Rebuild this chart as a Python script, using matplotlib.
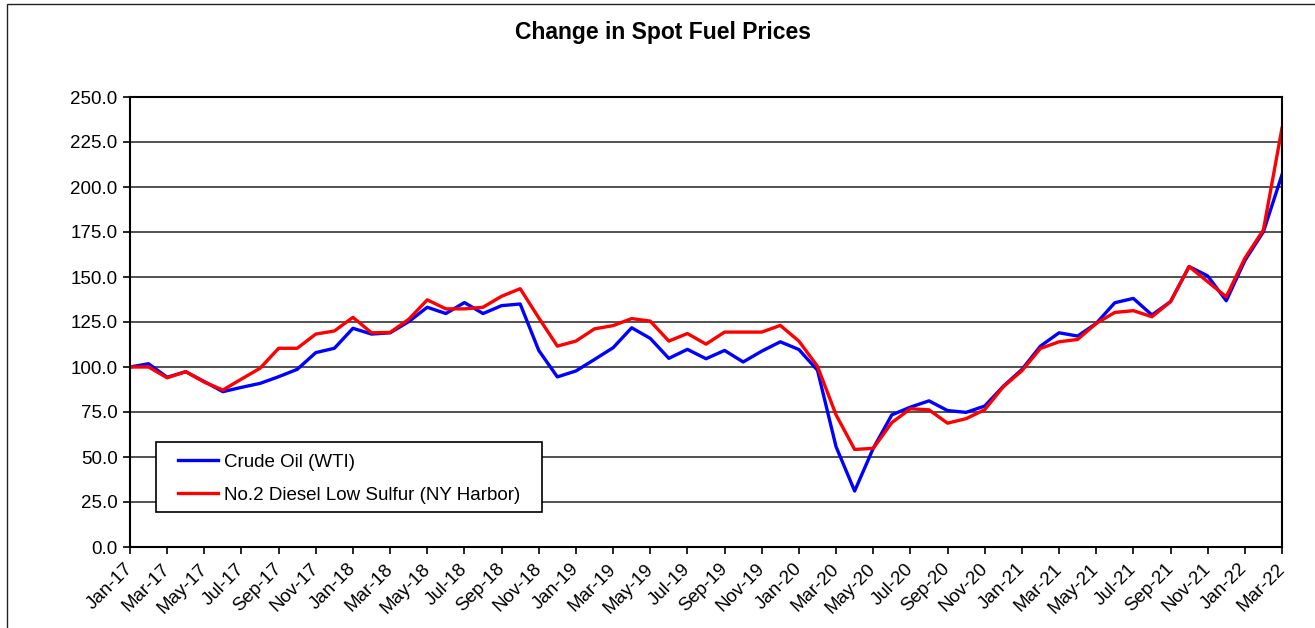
import matplotlib
matplotlib.use("Agg")
import matplotlib.pyplot as plt
from matplotlib.patches import Rectangle

plt.rcParams['font.family'] = ['Liberation Sans', 'DejaVu Sans']

months = ["Jan", "Feb", "Mar", "Apr", "May", "Jun",
          "Jul", "Aug", "Sep", "Oct", "Nov", "Dec"]
dates = [f"{m}-{y}" for y in range(17, 23) for m in months][:63]  # Jan-17 .. Mar-22

crude_wti = [100.0, 101.8, 94.3, 97.4, 91.9, 86.3, 88.7, 90.9, 94.6, 98.7,
             108.0, 110.4, 121.5, 118.3, 119.0, 125.2, 133.2, 129.7, 135.8, 129.7,
             134.1, 135.0, 109.2, 94.5, 97.8, 104.2, 110.7, 121.8, 115.9, 104.8,
             109.8, 104.6, 109.2, 102.8, 108.8, 114.0, 109.7, 98.2, 55.7, 31.1,
             54.8, 73.4, 77.7, 81.2, 75.8, 74.8, 78.3, 89.3, 98.6, 111.6,
             119.0, 117.2, 124.2, 135.7, 138.1, 128.9, 136.3, 155.8, 150.6, 136.8,
             159.1, 175.2, 206.8]

diesel_ny = [100.0, 100.0, 94.0, 97.4, 91.6, 87.2, 93.3, 99.3, 110.4, 110.4,
             118.3, 120.0, 127.6, 119.0, 119.2, 126.5, 137.3, 132.3, 132.3, 133.2,
             139.3, 143.5, 127.3, 111.6, 114.4, 121.2, 123.0, 126.9, 125.5, 114.4,
             118.6, 112.7, 119.4, 119.4, 119.4, 123.1, 114.4, 100.4, 73.4, 54.2,
             54.8, 69.1, 76.8, 76.2, 68.8, 71.3, 76.3, 89.0, 97.9, 110.3,
             114.0, 115.3, 124.2, 130.3, 131.3, 127.9, 136.3, 155.8, 147.4, 139.0,
             160.4, 176.2, 232.7]

W, H = 1315, 628
fig = plt.figure(figsize=(W / 100, H / 100), dpi=100)
# outer chart frame
fig.patches.append(Rectangle((7 / W, -0.1), 1.2, 1 - 4 / H + 0.1,
                             transform=fig.transFigure, fill=False,
                             edgecolor="#222222", linewidth=1.0))

ax = fig.add_axes([130 / W, 1 - 547 / H, (1282 - 130) / W, (547 - 97) / H])
x = list(range(len(dates)))
ax.plot(x, crude_wti, color="#0000ff", lw=2.4, label="Crude Oil (WTI)")
ax.plot(x, diesel_ny, color="#ff0000", lw=2.4, label="No.2 Diesel Low Sulfur (NY Harbor)")

ax.set_xlim(0, len(dates) - 1)
ax.set_ylim(0, 250)
ax.set_yticks(range(0, 251, 25))
ax.set_yticklabels([f"{v:.1f}" for v in range(0, 251, 25)], fontsize=13.5)
ax.set_xticks(x[::2])
ax.set_xticklabels(dates[::2], rotation=45, ha="right", va="center",
                   rotation_mode="anchor", fontsize=13.5)
ax.tick_params(axis="x", pad=9, length=5, width=1.2)
ax.tick_params(axis="y", pad=4, length=5, width=1.2)
ax.grid(axis="y", color="#222222", lw=1.1)
ax.set_axisbelow(True)
for s in ax.spines.values():
    s.set_linewidth(1.5)
    s.set_color("black")

# legend box drawn by hand so the padding matches the Excel look
fig.patches.append(Rectangle((156 / W, 1 - 512 / H), (542 - 156) / W, (512 - 442) / H,
                             transform=fig.transFigure, facecolor="white",
                             edgecolor="black", linewidth=1.2, zorder=3))
handles, labels = ax.get_legend_handles_labels()
fig.legend(handles, labels, loc="lower left",
           bbox_to_anchor=(178 / W, 1 - 504 / H), bbox_transform=fig.transFigure,
           fontsize=13.5, frameon=False, borderaxespad=0, borderpad=0,
           handlelength=2.13, handletextpad=0.32, labelspacing=0.87)

fig.text(663 / W, 1 - 33 / H, "Change in Spot Fuel Prices",
         ha="center", va="center", fontsize=16.5, fontweight="bold")

fig.savefig("out.png", dpi=100)
